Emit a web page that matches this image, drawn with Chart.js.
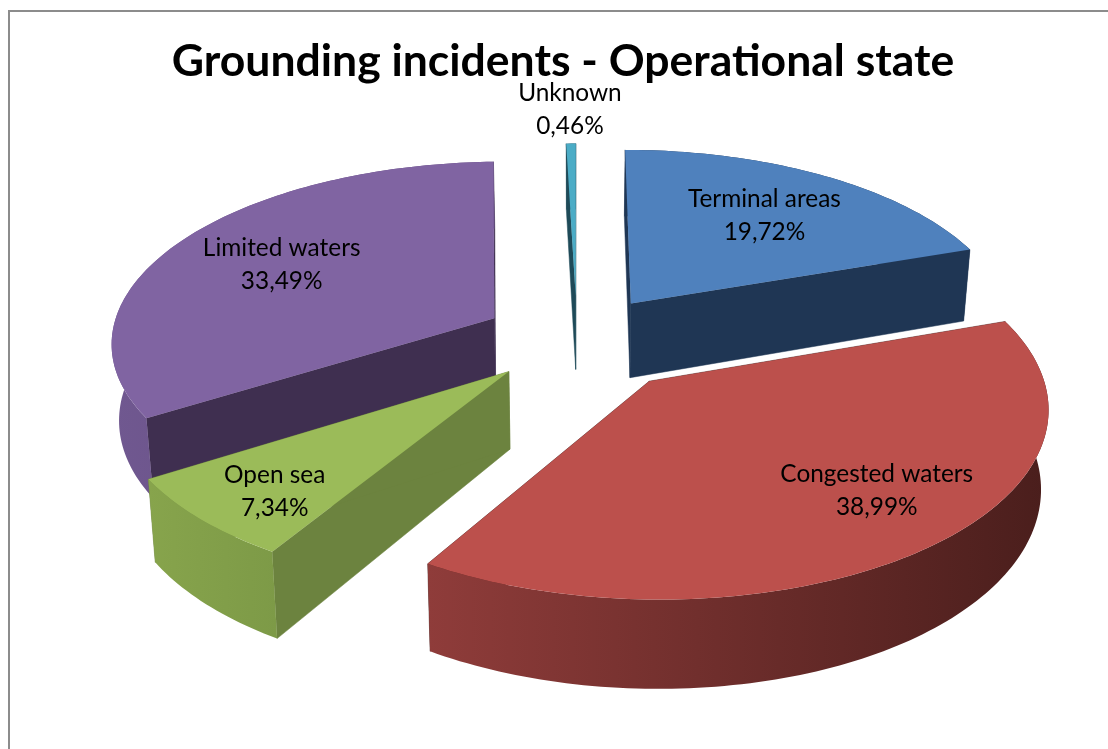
<!DOCTYPE html>
<html lang="en">
<head>
    <meta charset="UTF-8">
    <title>Grounding incidents - Operational state</title>
    <script src="https://cdn.jsdelivr.net/npm/chart.js"></script>
    <style>
        html, body { margin: 0; background: #fff; overflow: hidden; }
        canvas { display: block; }
    </style>
</head>
<body>
    <canvas id="pieChart" width="1108" height="749"></canvas>

    <script>
        const categories = ['Terminal areas', 'Congested waters', 'Open sea', 'Limited waters', 'Unknown'];
        const shares = [19.72, 38.99, 7.34, 33.49, 0.46];

        const explodeOffsets = [95, 112, 95, 95, 95];
        const topColors = ['#4f81bd', '#bc504c', '#9bbb59', '#8064a2', '#4bacc6'];
        const wallLeftColors = ['#1f3654', '#8f3c3a', '#87a44c', '#705890', '#1e4a58'];
        const wallRightColors = ['#1f3654', '#4a1e1c', '#7d9a47', '#604a7c', '#1e4a58'];
        const cutColors = ['#1f3654', '#4a1e1c', '#6c833f', '#3f2f50', '#1e4a58'];
        const labelRadii = [0.67, 0.75, 0.8, 0.67, 1.26];
        const labelTurns = [0.5, 0.46, 0.42, 0.5, 0.5];

        // perspective camera for the tilted pie
        const camera = { x: 577, y: 339, squash: 0.47, perspective: 0.122, depth: 76, taper: 0.984 };

        function project(u, v, R, low) {
            const w = 1 - camera.perspective * v;
            let x = R * u / w;
            let y = camera.y + R * camera.squash * v / w;
            if (low) {
                x *= camera.taper;
                y += camera.depth / w;
            }
            return { x: camera.x + x, y };
        }

        function tracePath(ctx, points) {
            ctx.beginPath();
            points.forEach((p, i) => i ? ctx.lineTo(p.x, p.y) : ctx.moveTo(p.x, p.y));
            ctx.closePath();
        }

        function sliceGeometry(arc) {
            const { startAngle, endAngle, outerRadius } = arc.getProps(['startAngle', 'endAngle', 'outerRadius'], true);
            const mid = (startAngle + endAngle) / 2;
            const shift = arc.options.offset / outerRadius;
            return { startAngle, endAngle, mid, R: outerRadius, tipU: shift * Math.cos(mid), tipV: shift * Math.sin(mid) };
        }

        function rimPoints(g, low) {
            const steps = Math.max(2, Math.ceil((g.endAngle - g.startAngle) / 0.02));
            const points = [];
            for (let i = 0; i <= steps; i++) {
                const a = g.startAngle + (g.endAngle - g.startAngle) * i / steps;
                points.push(project(g.tipU + Math.cos(a), g.tipV + Math.sin(a), g.R, low));
            }
            return points;
        }

        const tiltedPie = {
            id: 'tiltedPie',
            beforeDraw(chart) {
                const ctx = chart.ctx;
                ctx.save();
                ctx.strokeStyle = '#8c8c8c';
                ctx.lineWidth = 2;
                ctx.strokeRect(9, 11, 1300, 1000);
                ctx.restore();
            },
            beforeDatasetsDraw(chart) {
                const ctx = chart.ctx;
                const arcs = chart.getDatasetMeta(0).data;
                const order = arcs.map((arc, i) => i).sort((a, b) => sliceGeometry(arcs[a]).tipV - sliceGeometry(arcs[b]).tipV);

                ctx.save();
                order.forEach(i => {
                    const g = sliceGeometry(arcs[i]);
                    const tipTop = project(g.tipU, g.tipV, g.R, false);
                    const tipLow = project(g.tipU, g.tipV, g.R, true);
                    const rimTop = rimPoints(g, false);
                    const rimLow = rimPoints(g, true);

                    // the two cut faces
                    ctx.fillStyle = cutColors[i];
                    ctx.strokeStyle = cutColors[i];
                    ctx.lineWidth = 0.5;
                    [[rimTop[0], rimLow[0]], [rimTop[rimTop.length - 1], rimLow[rimLow.length - 1]]].forEach(edge => {
                        tracePath(ctx, [tipTop, edge[0], edge[1], tipLow]);
                        ctx.fill();
                        ctx.stroke();
                    });

                    // outer wall
                    const wall = rimTop.concat(rimLow.slice().reverse());
                    const xs = wall.map(p => p.x);
                    const shade = ctx.createLinearGradient(Math.min(...xs), 0, Math.max(...xs), 0);
                    shade.addColorStop(0, wallLeftColors[i]);
                    shade.addColorStop(1, wallRightColors[i]);
                    ctx.fillStyle = shade;
                    tracePath(ctx, wall);
                    ctx.fill();

                    // top surface
                    ctx.fillStyle = topColors[i];
                    tracePath(ctx, [tipTop].concat(rimTop));
                    ctx.fill();
                });

                // labels
                ctx.fillStyle = '#000';
                ctx.font = '24.4px Lato';
                ctx.textAlign = 'center';
                ctx.textBaseline = 'middle';
                arcs.forEach((arc, i) => {
                    const g = sliceGeometry(arc);
                    const a = g.startAngle + (g.endAngle - g.startAngle) * labelTurns[i];
                    const p = project(g.tipU + labelRadii[i] * Math.cos(a), g.tipV + labelRadii[i] * Math.sin(a), g.R, false);
                    ctx.fillText(categories[i], p.x, p.y - 16.5);
                    ctx.fillText(shares[i].toFixed(2).replace('.', ',') + '%', p.x, p.y + 16.5);
                });
                ctx.restore();
                return false;
            }
        };

        new Chart(document.getElementById('pieChart'), {
            type: 'pie',
            plugins: [tiltedPie],
            data: {
                labels: categories,
                datasets: [{
                    data: shares,
                    backgroundColor: topColors,
                    offset: explodeOffsets,
                    borderWidth: 0
                }]
            },
            options: {
                responsive: false,
                animation: false,
                radius: 384,
                layout: { padding: { left: 18 } },
                plugins: {
                    legend: { display: false },
                    tooltip: { enabled: false },
                    title: {
                        display: true,
                        text: 'Grounding incidents - Operational state',
                        color: '#000',
                        font: { family: 'Lato', size: 44.5, weight: 'bold' },
                        padding: { top: 35, bottom: 10 }
                    }
                }
            }
        });
    </script>
</body>
</html>
